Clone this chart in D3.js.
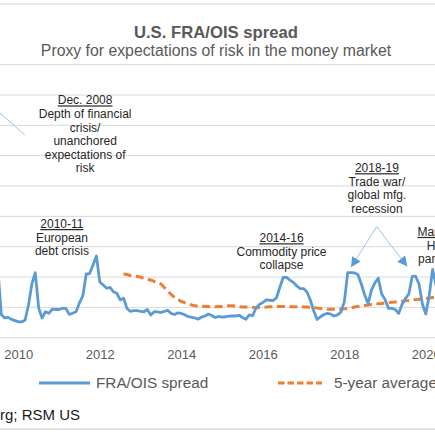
<!DOCTYPE html>
<html>
<head>
<meta charset="utf-8">
<script src="https://cdn.jsdelivr.net/npm/d3@7"></script>
<style>
  body { margin: 0; background: #fff; }
  svg text { font-family: "Liberation Sans", Arial, sans-serif; }
</style>
</head>
<body>
<svg id="chart" width="435" height="435"></svg>
<script>
// FRA/OIS spread, basis points, monthly from Jul 2009
var spreadStart = "2009-07";
var spread = [
  45, 15.3, 13.0, 13.4, 12.1, 11.3,
  10.5, 10.4, 11.7, 21.6, 35.4, 42.9, 19.6, 13.0, 17.1, 16.1, 18.9, 18.6,
  18.6, 19.4, 19.3, 15.4, 16.1, 17.1, 22.9, 27.5, 42.0, 42.3, 47.9, 53.9,
  36.7, 34.7, 32.6, 33.2, 30.3, 29.3, 24.9, 26.0, 19.3, 17.3, 17.8, 17.8,
  17.3, 17.1, 18.6, 15.0, 17.1, 17.0, 16.6, 17.3, 18.1, 16.0, 15.3, 16.4,
  16.0, 15.1, 13.9, 13.6, 13.0, 12.3, 13.6, 14.3, 15.6, 14.6, 13.3, 14.0,
  13.6, 13.8, 14.2, 14.3, 14.3, 14.8, 13.3, 12.1, 15.0, 14.6, 19.6, 21.9,
  23.2, 24.9, 24.7, 24.5, 26.2, 33.1, 39.7, 39.7, 38.0, 36.5, 34.1, 32.4,
  32.4, 30.1, 24.9, 17.6, 12.0, 13.8, 15.3, 16.0, 15.5, 14.3, 15.0, 16.9,
  23.5, 42.9, 42.9, 42.7, 41.7, 35.4, 28.2, 22.5, 31.4, 36.1, 39.2, 28.8,
  25.2, 19.4, 19.3, 18.6, 16.0, 21.9, 25.8, 28.8, 40.4, 40.5, 35.4, 22.2,
  15.6, 27.5, 45.0, 34.7, 28.0
];

// 5-year average of the spread, monthly from Aug 2012
var avgStart = "2012-08";
var avg5 = [
  42.0, 41.7, 41.0, 40.7, 40.4,
  40.0, 39.0, 38.4, 38.0, 37.1, 36.4, 35.4, 33.1, 30.8, 28.5, 26.5, 25.0,
  23.9, 23.1, 22.4, 21.6, 21.0, 20.9, 20.7, 20.6, 20.5, 20.4, 20.4, 20.5,
  20.6, 20.8, 21.0, 21.0, 20.8, 20.5, 20.3, 20.2, 20.3, 20.0, 19.8, 19.9,
  20.1, 20.2, 20.4, 20.4, 20.5, 20.6, 20.6, 20.5, 20.4, 20.4, 20.4, 20.4,
  20.3, 20.2, 20.1, 20.0, 19.5, 19.2, 19.0, 18.8, 18.7, 18.7, 18.7, 18.8,
  19.0, 19.3, 19.7, 20.2, 20.6, 21.0, 21.3, 21.6, 21.9, 22.1, 22.4, 22.6,
  22.9, 23.1, 23.4, 23.6, 23.9, 24.1, 24.4, 24.6, 24.9, 25.1, 25.4, 25.6,
  25.9, 26.1, 26.5, 26.8
];

var yearTicks = [2010, 2012, 2014, 2016, 2018, 2020];
var gridValues = [0, 20, 40, 60, 80, 100, 120, 140, 160, 180, 200, 220];
var seriesNames = ["FRA/OIS spread", "5-year average"];

var title = "U.S. FRA/OIS spread";
var subtitle = "Proxy for expectations of risk in the money market";
var source = "Source: Bloomberg; RSM US";

var notes = [
  { year: 2011.64, value: 153.8, lines: ["Dec. 2008", "Depth of financial", "crisis/", "unanchored", "expectations of", "risk"] },
  { year: 2011.07, value: 72.3, lines: ["2010-11", "European", "debt crisis"] },
  { year: 2016.46, value: 62.9, lines: ["2014-16", "Commodity price", "collapse"] },
  { year: 2018.80, value: 109.1, lines: ["2018-19", "Trade war/", "global mfg.", "recession"] },
  { year: 2020.45, value: 67.1, lines: ["Mar. 2020", "Health", "pandemic"] }
];
var arrows = [
  { from: [2010.16, 133.7], to: [2008.92, 163], head: false },
  { from: [2018.795, 73.2], to: [2018.164, 46.4], head: true },
  { from: [2018.795, 73.2], to: [2019.546, 46.9], head: true }
];

function monthYear(start, i) {
  var p = start.split("-");
  return +p[0] + (+p[1] - 1 + i) / 12;
}

var svg = d3.select("#chart");
var x = d3.scaleLinear().domain([2010, 2020]).range([18.3, 425.8]);
var y = d3.scaleLinear().domain([0, 220]).range([337.7, 4]);

// gridlines
svg.append("g").selectAll("line").data(gridValues).enter()
  .append("line")
  .attr("x1", 0).attr("x2", 435)
  .attr("y1", d => y(d)).attr("y2", d => y(d))
  .attr("stroke", "#d9d9d9").attr("stroke-width", 1);

// title block sits on a white box over the grid
svg.append("rect").attr("x", 0).attr("y", 9).attr("width", 435).attr("height", 52)
  .attr("fill", "#fff");
svg.append("text").attr("x", 216).attr("y", 37.5)
  .attr("text-anchor", "middle").attr("font-size", 16.7).attr("font-weight", "bold")
  .attr("fill", "#595959").text(title);
svg.append("text").attr("x", 216).attr("y", 56)
  .attr("text-anchor", "middle").attr("font-size", 15.8)
  .attr("fill", "#595959").text(subtitle);

// x axis labels
var xAxis = d3.axisBottom(x).tickValues(yearTicks).tickFormat(d3.format("d"))
  .tickSize(0).tickPadding(11.7);
var gx = svg.append("g").attr("transform", "translate(0," + y(0) + ")").call(xAxis);
gx.select(".domain").remove();
gx.selectAll("text").attr("font-size", 13).attr("fill", "#595959")
  .attr("font-family", "'Liberation Sans', Arial, sans-serif");

// lines
var line = d3.line().x(d => x(d[0])).y(d => y(d[1]));
var spreadPts = spread.map((v, i) => [monthYear(spreadStart, i), v]);
var avgPts = avg5.map((v, i) => [monthYear(avgStart, i), v]);

svg.append("path").attr("d", line(avgPts))
  .attr("fill", "none").attr("stroke", "#ed7d31").attr("stroke-width", 3)
  .attr("stroke-dasharray", "8,4.5");
svg.append("path").attr("d", line(spreadPts))
  .attr("fill", "none").attr("stroke", "#5b9bd5").attr("stroke-width", 2.8)
  .attr("stroke-linejoin", "round");

// annotation arrows
svg.append("defs").append("marker")
  .attr("id", "head").attr("viewBox", "0 0 10 10")
  .attr("refX", 10).attr("refY", 5)
  .attr("markerWidth", 11).attr("markerHeight", 10)
  .attr("markerUnits", "userSpaceOnUse").attr("orient", "auto")
  .append("path").attr("d", "M0,0L10,5L0,10Z").attr("fill", "#5b9bd5");

svg.append("g").selectAll("line").data(arrows).enter()
  .append("line")
  .attr("x1", d => x(d.from[0])).attr("y1", d => y(d.from[1]))
  .attr("x2", d => x(d.to[0])).attr("y2", d => y(d.to[1]))
  .attr("stroke", "#9dc3e6").attr("stroke-width", 1)
  .attr("marker-end", d => d.head ? "url(#head)" : null);

// annotation text
var noteG = svg.append("g").selectAll("text").data(notes).enter()
  .append("text")
  .attr("text-anchor", "middle").attr("font-size", 12).attr("fill", "#262626");
noteG.selectAll("tspan").data(d => d.lines.map((t, i) => ({ t: t, i: i, n: d }))).enter()
  .append("tspan")
  .attr("x", d => x(d.n.year))
  .attr("y", d => y(d.n.value) + d.i * 13.6)
  .style("text-decoration", d => d.i === 0 ? "underline" : null)
  .text(d => d.t);

// legend
var leg = svg.append("g").attr("transform", "translate(0,383)");
leg.append("line").attr("x1", 39).attr("x2", 90).attr("y1", 0).attr("y2", 0)
  .attr("stroke", "#5b9bd5").attr("stroke-width", 3);
leg.append("text").attr("x", 96).attr("y", 5.3).attr("font-size", 15.3)
  .attr("font-family", "'Open Sans', sans-serif").attr("fill", "#595959").text(seriesNames[0]);
leg.append("line").attr("x1", 278).attr("x2", 322).attr("y1", 0).attr("y2", 0)
  .attr("stroke", "#ed7d31").attr("stroke-width", 3).attr("stroke-dasharray", "6.5,3");
leg.append("text").attr("x", 334).attr("y", 5.3).attr("font-size", 15.3)
  .attr("font-family", "'Open Sans', sans-serif").attr("fill", "#595959").text(seriesNames[1]);

// source, bottom rule
svg.append("text").attr("x", 80).attr("y", 419.5).attr("text-anchor", "end")
  .attr("font-size", 15).attr("fill", "#1a1a1a").text(source);
svg.append("line").attr("x1", 0).attr("x2", 435).attr("y1", 429).attr("y2", 429)
  .attr("stroke", "#d9d9d9").attr("stroke-width", 1.5);
</script>
</body>
</html>
